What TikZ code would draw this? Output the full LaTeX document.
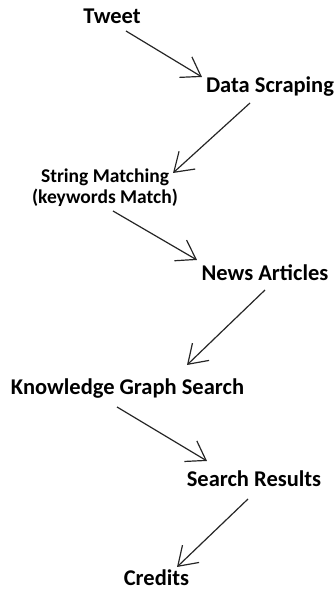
\documentclass[tikz,border=0pt]{standalone}
\usepackage{fontspec}
\setmainfont{Carlito}
\usepackage{tikz}
\usetikzlibrary{arrows.meta}
\tikzstyle{stage} = [inner sep=0pt, anchor=base, text=black, font=\bfseries\fontsize{22.5}{27}\selectfont]
\tikzstyle{substage} = [inner sep=0pt, anchor=base, align=center, text=black, font=\bfseries\fontsize{19.5}{21}\selectfont]
\tikzstyle{flow} = [line width=1.2pt, black!85, -{Straight Barb[length=18pt,width=24pt]}]

\begin{document}
\begin{tikzpicture}[x=1pt,y=1pt]
	\useasboundingbox (0,0) rectangle (335,592);
	\node (tweet)[stage] at (112,568) {Tweet};
	\node (scrap)[stage] at (270,499) {Data Scraping};
	\node (match)[substage] at (105,388) {String Matching\\(keywords Match)};
	\node (news)[stage] at (265,311) {News Articles};
	\node (kgs)[stage] at (127.5,197) {Knowledge Graph Search};
	\node (results)[stage] at (254,105) {Search Results};
	\node (credits)[stage] at (156.5,6) {Credits};
	\draw [flow] ([shift={(14,-7)}]tweet.base) -- ([shift={(-68,16)}]scrap.base);
	\draw [flow] ([shift={(-20,-10)}]scrap.base) -- ([shift={(68,31)}]match.base);
	\draw [flow] ([shift={(8,-7)}]match.base) -- ([shift={(-68,21)}]news.base);
	\draw [flow] ([shift={(0,-9)}]news.base) -- ([shift={(59.5,30)}]kgs.base);
	\draw [flow] ([shift={(-10.5,-12)}]kgs.base) -- ([shift={(-47,26)}]results.base);
	\draw [flow] ([shift={(-6,-12)}]results.base) -- ([shift={(20.5,19)}]credits.base);
\end{tikzpicture}
\end{document}
